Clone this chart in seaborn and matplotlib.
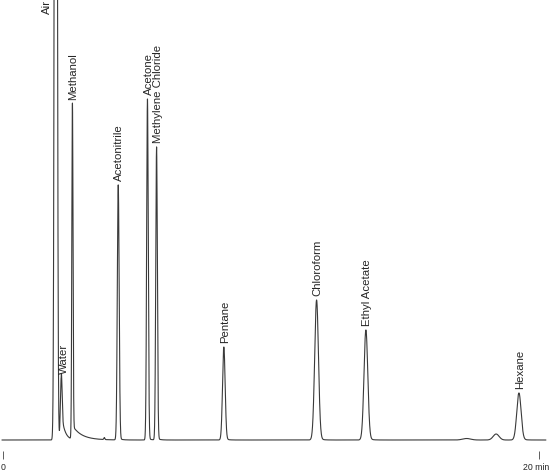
import numpy as np
import pandas as pd
import seaborn as sns
import matplotlib.pyplot as plt
from matplotlib.transforms import ScaledTranslation

# peak table (time in min, height in detector units)
peak_names = ["Air", "Water", "Methanol", "Acetonitrile", "Acetone",
              "Methylene Chloride", "Pentane", "Chloroform", "Ethyl Acetate", "Hexane"]
peak_times = [1.97, 2.17, 2.59, 4.30, 5.39, 5.73, 8.24, 11.70, 13.54, 19.25]
peak_heights = [2000, 62, 336, 255, 341, 293, 93, 140, 110, 47]
peak_sigma = [0.038, 0.030, 0.022, 0.034, 0.030, 0.030, 0.048, 0.070, 0.070, 0.080]
tail_amp = [0, 30, 14, 2, 2, 2, 2, 3, 3, 2]
tail_tau = [0.1, 0.12, 0.35, 0.1, 0.1, 0.1, 0.1, 0.12, 0.12, 0.12]

# small unlabeled bumps on the baseline
minor_times = [2.05, 3.78, 17.30, 18.40]
minor_heights = [12, 2, 1.5, 6]
minor_sigma = [0.015, 0.02, 0.15, 0.11]

run_start, run_end = -0.04, 20.26

sns.set_style("white")
plt.rcParams["font.family"] = ["Liberation Sans", "DejaVu Sans"]

t = np.arange(run_start, run_end, 0.002)
signal = np.zeros_like(t)
for t0, h, s, a, tau in zip(peak_times, peak_heights, peak_sigma, tail_amp, tail_tau):
    signal += h * np.exp(-0.5 * ((t - t0) / s) ** 2)
    dt = np.clip(t - t0, 0, None)
    signal += a * np.exp(-dt / tau) * (1 - np.exp(-dt / s))
for t0, h, s in zip(minor_times, minor_heights, minor_sigma):
    signal += h * np.exp(-0.5 * ((t - t0) / s) ** 2)

df = pd.DataFrame({"time": t, "response": signal})

fig = plt.figure(figsize=(5.5, 4.77), dpi=100)
ax = fig.add_axes([0, 25 / 477, 1, 452 / 477])
sns.lineplot(data=df, x="time", y="response", ax=ax, color="#3a3a3a",
             linewidth=0.8, estimator=None, sort=False)

ax.set_xlim(-3 / 26.8, 547 / 26.8)
ax.set_ylim(-11, 441)
sns.despine(ax=ax, left=True, bottom=True)
ax.set_yticks([])
ax.set_xticks([0, 20])
ax.set_xticklabels(["0", "20 min"], fontsize=6.3)
ax.tick_params(axis="x", direction="out", length=5.8, width=0.6, pad=2,
               bottom=True, color="#444444")
last = ax.get_xticklabels()[-1]
last.set_transform(last.get_transform() + ScaledTranslation(-3 / 100, 0, fig.dpi_scale_trans))
ax.set_xlabel("")
ax.set_ylabel("")

# peak labels; the Air peak runs off scale so its label sits at the top
for name, t0, h in zip(peak_names, peak_times, peak_heights):
    if name == "Air":
        ax.annotate(name, xy=(t0, 441), xytext=(-2.8, 0), textcoords="offset points",
                    rotation=90, ha="right", va="top", fontsize=8.2)
    elif name == "Water":
        ax.annotate(name, xy=(t0, h), xytext=(2.0, 3.8), textcoords="offset points",
                    rotation=90, ha="center", va="bottom", fontsize=8.2)
    else:
        ax.annotate(name, xy=(t0, h), xytext=(0.8, 3.8), textcoords="offset points",
                    rotation=90, ha="center", va="bottom", fontsize=8.2)

fig.savefig("out.png", dpi=100)
